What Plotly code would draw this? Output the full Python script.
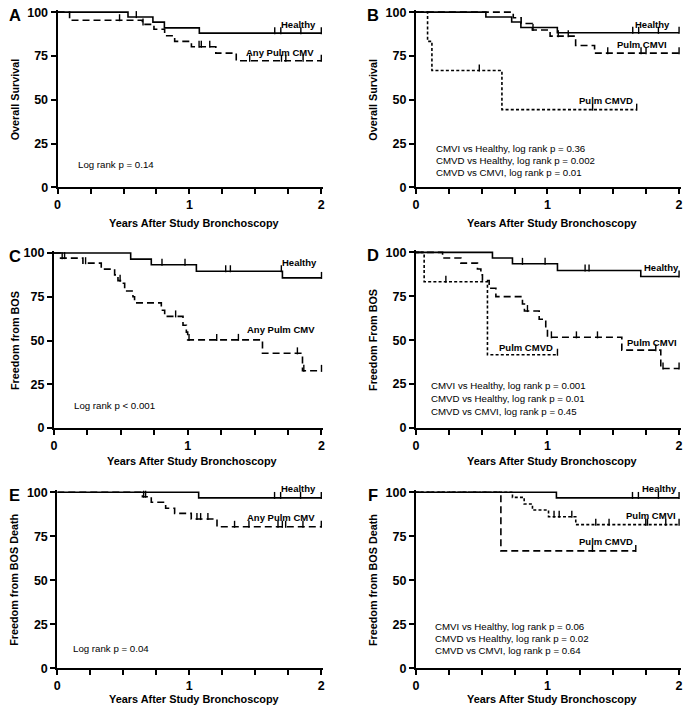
import plotly.graph_objects as go

# ---------------- data (percent vs years) ----------------
# Panel A - overall survival
A_healthy_t = [0, 0.534, 0.723, 0.81, 1.075, 2.0]
A_healthy_s = [100, 97.2, 94.3, 91.0, 88.0, 88.0]
A_healthy_c = [0.597, 1.647, 1.693, 1.845, 2.0]
A_cmv_t = [0, 0.091, 0.643, 0.731, 0.812, 0.888, 1.015, 1.20, 1.355, 2.0]
A_cmv_s = [100, 95.4, 93.0, 90.2, 86.5, 83.3, 80.3, 76.6, 72.3, 72.3]
A_cmv_c = [0.47, 0.648, 1.073, 1.09, 1.154, 1.457, 1.698, 1.731, 1.862, 2.0]

# Panel B - overall survival by group
B_healthy_t = [0, 0.532, 0.728, 0.798, 1.075, 2.0]
B_healthy_s = [100, 97.2, 94.4, 91.2, 88.2, 88.2]
B_healthy_c = [1.648, 1.693, 1.843, 2.0]
B_cmvi_t = [0, 0.74, 0.80, 0.885, 1.02, 1.214, 1.358, 2.0]
B_cmvi_s = [100, 96.8, 93.5, 89.8, 86.3, 81.0, 76.6, 76.6]
B_cmvi_c = [0.621, 0.639, 0.66, 0.728, 0.89, 1.082, 1.158, 1.458, 1.711, 1.749, 2.0]
B_cmvd_t = [0, 0.089, 0.122, 0.654, 1.678]
B_cmvd_s = [100, 83.3, 66.7, 44.4, 44.4]
B_cmvd_c = [0.482, 1.343, 1.678]

# Panel C - freedom from BOS
C_healthy_t = [0, 0.574, 0.728, 1.065, 1.708, 2.0]
C_healthy_s = [100, 96.5, 93.3, 89.6, 85.8, 85.8]
C_healthy_c = [0.461, 0.541, 0.808, 0.98, 1.284, 1.319, 1.70, 2.0]
C_cmv_t = [0, 0.05, 0.217, 0.354, 0.454, 0.479, 0.504, 0.529, 0.591, 0.603,
           0.803, 0.828, 0.965, 0.99, 1.0, 1.559, 1.858, 2.0]
C_cmv_s = [100, 97.1, 94.2, 90.8, 87.5, 84.2, 82.7, 78.3, 75.0, 71.5,
           67.3, 63.8, 58.7, 54.8, 50.4, 42.7, 32.7, 32.7]
C_cmv_c = [0.062, 0.08, 0.237, 0.495, 0.91, 1.01, 1.217, 1.379, 1.82, 1.868, 2.0]

# Panel D - freedom from BOS by group
D_healthy_t = [0, 0.582, 0.734, 1.076, 1.709, 2.0]
D_healthy_s = [100, 96.8, 93.5, 89.7, 86.3, 86.3]
D_healthy_c = [0.461, 0.544, 0.81, 0.982, 1.286, 1.316, 2.0]
D_cmvi_t = [0, 0.203, 0.342, 0.468, 0.494, 0.506, 0.557, 0.608, 0.81, 0.825,
            0.937, 0.987, 1.0, 1.565, 1.861, 2.0]
D_cmvi_s = [100, 96.8, 93.9, 90.5, 87.2, 84.0, 79.6, 74.8, 70.6, 66.6,
            61.9, 56.1, 51.6, 44.3, 33.8, 33.8]
D_cmvi_c = [0.848, 1.03, 1.22, 1.38, 1.823, 1.878, 2.0]
D_cmvd_t = [0, 0.063, 0.544, 1.076]
D_cmvd_s = [100, 83.3, 41.7, 41.7]
D_cmvd_c = [0.228, 1.076]

# Panel E - freedom from BOS death
E_healthy_t = [0, 1.071, 2.0]
E_healthy_s = [100, 96.8, 96.8]
E_healthy_c = [0.093, 0.114, 0.477, 0.543, 0.598, 0.631, 0.72, 0.80,
               1.646, 1.692, 1.843, 2.0]
E_cmv_t = [0, 0.645, 0.712, 0.821, 0.889, 1.015, 1.21, 2.0]
E_cmv_s = [100, 97.5, 94.3, 90.9, 88.0, 84.8, 80.4, 80.4]
E_cmv_c = [0.654, 0.669, 1.058, 1.086, 1.141, 1.343, 1.452, 1.672, 1.705,
           1.73, 1.861, 2.0]

# Panel F - freedom from BOS death by group
F_healthy_t = [0, 1.068, 2.0]
F_healthy_s = [100, 96.8, 96.8]
F_healthy_c = [0.089, 0.106, 0.476, 0.544, 0.595, 0.638, 0.653, 0.722, 0.805,
               1.646, 1.691, 1.843, 2.0]
F_cmvi_t = [0, 0.734, 0.823, 0.886, 1.008, 1.215, 2.0]
F_cmvi_s = [100, 97.1, 93.3, 89.9, 86.1, 81.6, 81.6]
F_cmvi_c = [1.05, 1.089, 1.185, 1.367, 1.468, 1.747, 1.76, 1.899, 2.0]
F_cmvd_t = [0, 0.646, 1.671]
F_cmvd_s = [100, 66.7, 66.7]
F_cmvd_c = [1.342, 1.671]

x_ticks = [0, 1, 2]
y_ticks = [0, 25, 50, 75, 100]
x_title = "Years After Study Bronchoscopy"

# ---------------- styling / layout ----------------
W, H = 692, 714
FONT = "Liberation Sans, Arial, Helvetica, sans-serif"
SOLID, LONG, SHORT = "solid", "7px,4px", "3px,2.2px"
# small calibration of target pixel positions
SX, BX = 0.992, 3.46
SY, BY = 0.981, 5.2


def pxx(v):
    return ((v - BX) / SX) / W


def pyy(v):
    return 1 - ((v - BY) / SY) / H


panels = [
    dict(letter="A", box=(58, 321.5, 13.3, 188), ytitle="Overall Survival",
         curves=[(A_healthy_t, A_healthy_s, A_healthy_c, SOLID),
                 (A_cmv_t, A_cmv_s, A_cmv_c, LONG)],
         labels=[("Healthy", 299, 25.7), ("Any Pulm CMV", 280, 53.3)],
         stats=(76, [("Log rank p = 0.14", 165)]),
         xtitle_px=(194, 223)),
    dict(letter="B", box=(416, 679, 13.3, 188), ytitle="Overall Survival",
         curves=[(B_healthy_t, B_healthy_s, B_healthy_c, SOLID),
                 (B_cmvi_t, B_cmvi_s, B_cmvi_c, LONG),
                 (B_cmvd_t, B_cmvd_s, B_cmvd_c, SHORT)],
         labels=[("Healthy", 652.7, 25.7), ("Pulm CMVI", 642, 46),
                 ("Pulm CMVD", 606, 101)],
         stats=(433.7, [("CMVI vs Healthy, log rank p = 0.36", 149),
                        ("CMVD vs Healthy, log rank p = 0.002", 160.7),
                        ("CMVD vs CMVI, log rank p = 0.01", 172.7)]),
         xtitle_px=(552.5, 223)),
    dict(letter="C", box=(54.3, 321.7, 253.3, 427.7), ytitle="Freedom from BOS",
         curves=[(C_healthy_t, C_healthy_s, C_healthy_c, SOLID),
                 (C_cmv_t, C_cmv_s, C_cmv_c, LONG)],
         labels=[("Healthy", 300, 262.7), ("Any Pulm CMV", 281, 330)],
         stats=(72.7, [("Log rank p < 0.001", 405)]),
         xtitle_px=(192.5, 461)),
    dict(letter="D", box=(416, 679, 252.7, 427.5), ytitle="Freedom From BOS",
         curves=[(D_healthy_t, D_healthy_s, D_healthy_c, SOLID),
                 (D_cmvi_t, D_cmvi_s, D_cmvi_c, LONG),
                 (D_cmvd_t, D_cmvd_s, D_cmvd_c, SHORT)],
         labels=[("Healthy", 661, 267.7), ("Pulm CMVI", 652, 342.7),
                 ("Pulm CMVD", 526, 347.3)],
         stats=(428.7, [("CMVI vs Healthy, log rank p = 0.001", 385.7),
                        ("CMVD vs Healthy, log rank p = 0.01", 398.3),
                        ("CMVD vs CMVI, log rank p = 0.45", 411)]),
         xtitle_px=(552.5, 461)),
    dict(letter="E", box=(57.7, 321.5, 491.7, 667), ytitle="Freedom from BOS Death",
         curves=[(E_healthy_t, E_healthy_s, E_healthy_c, SOLID),
                 (E_cmv_t, E_cmv_s, E_cmv_c, LONG)],
         labels=[("Healthy", 299, 487.7), ("Any Pulm CMV", 281.7, 516.7)],
         stats=(71.7, [("Log rank p = 0.04", 647.7)]),
         xtitle_px=(194, 698)),
    dict(letter="F", box=(416, 679, 491.7, 667), ytitle="Freedom from BOS Death",
         curves=[(F_healthy_t, F_healthy_s, F_healthy_c, SOLID),
                 (F_cmvi_t, F_cmvi_s, F_cmvi_c, SHORT),
                 (F_cmvd_t, F_cmvd_s, F_cmvd_c, LONG)],
         labels=[("Healthy", 659, 487.7), ("Pulm CMVI", 651, 515),
                 ("Pulm CMVD", 606, 541)],
         stats=(433.5, [("CMVI vs Healthy, log rank p = 0.06", 625),
                        ("CMVD vs Healthy, log rank p = 0.02", 637),
                        ("CMVD vs CMVI, log rank p = 0.64", 649)]),
         xtitle_px=(552.5, 698)),
]

X_MAX, Y_MAX = 2.0, 100.0
X_PAD, Y_PAD = 0.012, 1.2


def level_at(t, s, c):
    val = s[0]
    for ti, si in zip(t, s):
        if ti <= c:
            val = si
    return val


fig = go.Figure()
layout = dict(
    width=W, height=H, margin=dict(l=0, r=0, t=0, b=0, pad=0),
    paper_bgcolor="white", plot_bgcolor="white", showlegend=False,
    font=dict(family=FONT, color="black"),
)
annotations = []

for i, p in enumerate(panels):
    n = "" if i == 0 else str(i + 1)
    xa, ya = "x" + n, "y" + n
    l, r, top, bot = p["box"]
    r_ext = r + (r - l) * X_PAD / X_MAX
    top_ext = top - (bot - top) * Y_PAD / Y_MAX

    for t, s, cens, dash in p["curves"]:
        fig.add_trace(go.Scatter(
            x=t, y=s, mode="lines", xaxis=xa, yaxis=ya,
            line=dict(shape="hv", color="black", width=1.6, dash=dash),
            hoverinfo="skip"))
        cy = [level_at(t, s, c) + 1.4 for c in cens]
        fig.add_trace(go.Scatter(
            x=cens, y=cy, mode="markers", xaxis=xa, yaxis=ya, cliponaxis=False,
            marker=dict(symbol="line-ns", size=5, color="black",
                        line=dict(width=1.4, color="black")),
            hoverinfo="skip"))

    axis_common = dict(showline=True, linewidth=2, linecolor="black",
                       ticks="outside", ticklen=5, tickwidth=1.6, tickcolor="black",
                       showgrid=False, zeroline=False,
                       tickfont=dict(family=FONT, size=12.5, color="black", weight="bold"))
    layout["xaxis" + n] = dict(
        domain=[max(0, pxx(l)), min(1, pxx(r_ext))], range=[0, X_MAX + X_PAD],
        anchor=ya, tickmode="array", tickvals=x_ticks,
        ticktext=[str(v) for v in x_ticks],
        minor=dict(dtick=0.25, tick0=0, ticks="outside", ticklen=5, tickwidth=1.6,
                   tickcolor="black", showgrid=False),
        **axis_common)
    layout["yaxis" + n] = dict(
        domain=[max(0, pyy(bot)), min(1, pyy(top_ext))], range=[0, Y_MAX + Y_PAD],
        anchor=xa, tickmode="array", tickvals=y_ticks,
        ticktext=[str(v) for v in y_ticks],
        **axis_common)

    for txt, lx, ly in p["labels"]:
        annotations.append(dict(text=txt, x=pxx(lx), y=pyy(ly), xref="paper",
                                yref="paper", showarrow=False, xanchor="center",
                                yanchor="middle",
                                font=dict(family=FONT, size=9.5, color="black",
                                          weight="bold")))
    sx, lines = p["stats"]
    for txt, ly in lines:
        annotations.append(dict(text=txt, x=pxx(sx), y=pyy(ly), xref="paper",
                                yref="paper", showarrow=False, xanchor="left",
                                yanchor="middle",
                                font=dict(family=FONT, size=9.7, color="black")))
    tx, ty = p["xtitle_px"]
    annotations.append(dict(text=x_title, x=pxx(tx), y=pyy(ty), xref="paper",
                            yref="paper", showarrow=False, xanchor="center",
                            yanchor="middle",
                            font=dict(family=FONT, size=10.9, color="black",
                                      weight="bold")))
    left_px = 15 if l < 200 else 373
    annotations.append(dict(text=p["ytitle"], x=pxx(left_px), y=pyy((top + bot) / 2),
                            xref="paper", yref="paper", showarrow=False,
                            textangle=-90, xanchor="center", yanchor="middle",
                            font=dict(family=FONT, size=10.8, color="black",
                                      weight="bold")))
    annotations.append(dict(text=p["letter"], x=pxx(left_px), y=pyy(top + 2.5),
                            xref="paper", yref="paper", showarrow=False,
                            xanchor="center", yanchor="middle",
                            font=dict(family=FONT, size=16.5, color="black",
                                      weight="bold")))

layout["annotations"] = annotations
fig.update_layout(**layout)

# pin the figure to the top-left corner of the page (no body margin / scrolling)
pin_js = (
    "document.documentElement.style.margin='0';"
    "document.body.style.margin='0';"
    "document.documentElement.style.overflow='hidden';"
    "document.body.style.overflow='hidden';"
    "var d=document.getElementById('{plot_id}');"
    "d.style.position='absolute';d.style.left='0px';d.style.top='0px';"
)
fig.write_html("out.html", config={"displayModeBar": False}, post_script=pin_js)
